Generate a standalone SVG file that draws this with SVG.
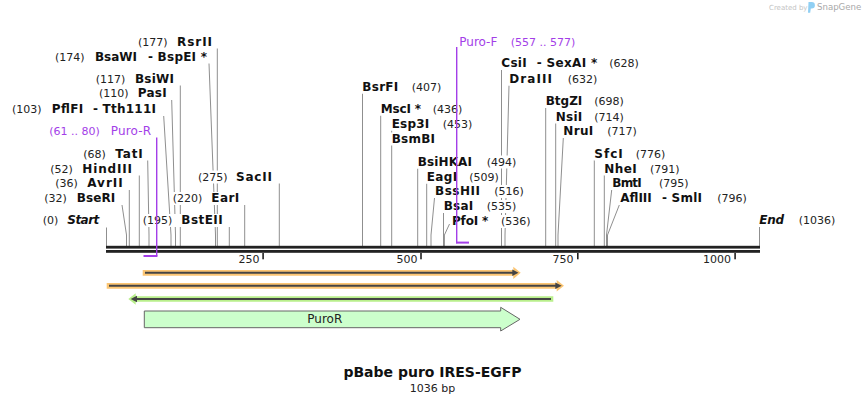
<svg xmlns="http://www.w3.org/2000/svg" width="866" height="404" viewBox="0 0 866 404">
<style>
.n{font-family:"DejaVu Sans",Verdana,sans-serif;font-size:12px;font-weight:bold;fill:#111}
.ni{font-family:"DejaVu Sans",Verdana,sans-serif;font-size:12px;font-weight:bold;font-style:italic;fill:#111}
.p{font-family:"DejaVu Sans",Verdana,sans-serif;font-size:11px;fill:#222}
.pp{font-family:"DejaVu Sans",Verdana,sans-serif;font-size:11px;fill:#a33ee8}
.pn{font-family:"DejaVu Sans",Verdana,sans-serif;font-size:12px;fill:#a33ee8}
.bg{fill:#fff}
.c path{stroke:#8f8f8f;stroke-width:1;fill:none}
.pr{stroke:#a33ee8;fill:none}
.tk{fill:#222}
.tl{font-family:"DejaVu Sans",Verdana,sans-serif;font-size:11px;fill:#222;text-anchor:end}
</style>
<rect width="866" height="404" fill="#fff"/>

<g id="watermark">
<text x="769" y="10" style="font-family:'DejaVu Sans',sans-serif;font-size:7px;fill:#c4c4c4">Created by</text>
<path d="M808.5 2 h3.2 a3.2 3.2 0 0 1 0 6.4 h-0.9 l-0.6 4.3 h-2.2 z" fill="#90cff3"/>
<text x="817" y="10.2" style="font-family:'DejaVu Sans',sans-serif;font-size:8.6px;fill:#a9a9a9">SnapGene</text>
</g>

<g id="connectors" class="c">
<path d="M106.5 227.5V246"/>
<path d="M122 205L126.5 235V246"/>
<path d="M129.3 190V246"/>
<path d="M139.3 175.5V246"/>
<path d="M147.7 160.5L149 235V246"/>
<path d="M163.7 116L171 235V246"/>
<path d="M171.7 100L175.5 235V246"/>
<path d="M180.3 85.5V246"/>
<path d="M209 63.5L215.5 235V246"/>
<path d="M217.3 48.5V246"/>
<path d="M229.3 227V246"/>
<path d="M244.7 205V246"/>
<path d="M279.3 183.5V246"/>
<path d="M362.5 93.5V246"/>
<path d="M380.7 115.5V246"/>
<path d="M391.7 130.5V246"/>
<path d="M417.7 168.5V246"/>
<path d="M426.7 183.5V246"/>
<path d="M434.5 198L431 235V246"/>
<path d="M443.5 213V246"/>
<path d="M449.5 224L444.4 235V246"/>
<path d="M501.5 70V246"/>
<path d="M509 85.5L505 235V246"/>
<path d="M545.7 107.5V246"/>
<path d="M555.7 123V246"/>
<path d="M563.3 138L558 235V246"/>
<path d="M594.3 160V246"/>
<path d="M604.3 175V246"/>
<path d="M611.7 190L606.5 235V246"/>
<path d="M619.3 205L607.5 235V246"/>
<path d="M759.5 227V246"/>
</g>

<g id="sequence">
<rect x="106" y="245.8" width="654" height="2.8" fill="#222"/>
<rect x="106" y="250" width="654" height="2.8" fill="#222"/>
<rect class="tk" x="262.3" y="253" width="1.6" height="6.3"/>
<rect class="tk" x="420.2" y="253" width="1.6" height="6.3"/>
<rect class="tk" x="577" y="253" width="1.6" height="6.3"/>
<rect class="tk" x="734.3" y="253" width="1.6" height="6.3"/>
<text class="tl" x="259.5" y="263.3">250</text>
<text class="tl" x="417.5" y="263.3">500</text>
<text class="tl" x="573.5" y="263.3">750</text>
<text class="tl" x="731" y="263.3">1000</text>
</g>

<!-- left-side enzymes -->
<g id="e-RsrII"><rect class="bg" x="137" y="35.5" width="77" height="13"/><text class="p" x="138" y="45.7">(177)</text><text class="n" x="177" y="45.7" textLength="35">RsrII</text></g>
<g id="e-BsaWI-BspEI"><rect class="bg" x="54" y="50.5" width="154" height="13"/><text class="p" x="55" y="60.7">(174)</text><text class="n" x="95" y="60.7" textLength="42">BsaWI</text><text class="n" x="148" y="60.7" textLength="59">- BspEI *</text></g>
<g id="e-BsiWI"><rect class="bg" x="94.7" y="72.5" width="80.3" height="13"/><text class="p" x="95.7" y="82.7">(117)</text><text class="n" x="135" y="82.7" textLength="39">BsiWI</text></g>
<g id="e-PasI"><rect class="bg" x="98" y="87" width="69.7" height="13"/><text class="p" x="99" y="97.3">(110)</text><text class="n" x="137.7" y="97.3" textLength="29">PasI</text></g>
<g id="e-PflFI-Tth111I"><rect class="bg" x="11" y="102.5" width="146" height="13"/><text class="p" x="12" y="112.7">(103)</text><text class="n" x="51.7" y="112.7" textLength="31.6">PflFI</text><text class="n" x="93" y="112.7" textLength="63">- Tth111I</text></g>
<g id="e-TatI"><rect class="bg" x="82.3" y="147.5" width="61.4" height="13"/><text class="p" x="83.3" y="157.7">(68)</text><text class="n" x="115.3" y="157.7" textLength="27.4">TatI</text></g>
<g id="e-HindIII"><rect class="bg" x="49.3" y="162.5" width="83.7" height="13"/><text class="p" x="50.3" y="172.7">(52)</text><text class="n" x="82.3" y="172.7" textLength="49.7">HindIII</text></g>
<g id="e-AvrII"><rect class="bg" x="54.3" y="177" width="69.4" height="13"/><text class="p" x="55.3" y="187.3">(36)</text><text class="n" x="87.3" y="187.3" textLength="35.4">AvrII</text></g>
<g id="e-BseRI"><rect class="bg" x="43.3" y="192" width="73" height="13"/><text class="p" x="44.3" y="202.3">(32)</text><text class="n" x="76.7" y="202.3" textLength="38.6">BseRI</text></g>
<g id="e-Start"><rect class="bg" x="41.7" y="214" width="58.6" height="13"/><text class="p" x="42.7" y="224.3">(0)</text><text class="ni" x="67.3" y="224.3" textLength="32">Start</text></g>
<g id="e-BstEII"><rect class="bg" x="141.7" y="214" width="82" height="13"/><text class="p" x="142.7" y="224.3">(195)</text><text class="n" x="181.3" y="224.3" textLength="41.4">BstEII</text></g>
<g id="e-EarI"><rect class="bg" x="171.7" y="192" width="68.6" height="13"/><text class="p" x="172.7" y="202.3">(220)</text><text class="n" x="211.3" y="202.3" textLength="28">EarI</text></g>
<g id="e-SacII"><rect class="bg" x="197" y="170.5" width="76" height="13"/><text class="p" x="198" y="180.7">(275)</text><text class="n" x="236" y="180.7" textLength="36">SacII</text></g>

<!-- right-side enzymes -->
<g id="e-CsiI-SexAI"><rect class="bg" x="500.3" y="57" width="139.4" height="13"/><text class="n" x="501.3" y="67.3" textLength="25.4">CsiI</text><text class="n" x="536.7" y="67.3" textLength="60.5">- SexAI *</text><text class="p" x="609.3" y="67.3">(628)</text></g>
<g id="e-DraIII"><rect class="bg" x="508.3" y="72.5" width="90" height="13"/><text class="n" x="509.3" y="82.7" textLength="42.7">DraIII</text><text class="p" x="567.7" y="82.7">(632)</text></g>
<g id="e-BsrFI"><rect class="bg" x="361.3" y="80.5" width="80.7" height="13"/><text class="n" x="362.3" y="90.7" textLength="36">BsrFI</text><text class="p" x="411.7" y="90.7">(407)</text></g>
<g id="e-MscI"><rect class="bg" x="379.7" y="102.5" width="83.3" height="13"/><text class="n" x="380.7" y="112.7" textLength="40.3">MscI *</text><text class="p" x="432.7" y="112.7">(436)</text></g>
<g id="e-Esp3I"><rect class="bg" x="390.7" y="117.5" width="82.3" height="13"/><text class="n" x="391.7" y="127.7" textLength="37.6">Esp3I</text><text class="p" x="442.7" y="127.7">(453)</text></g>
<g id="e-BsmBI"><rect class="bg" x="390.7" y="132.5" width="45.3" height="13"/><text class="n" x="391.7" y="142.7" textLength="43.3">BsmBI</text></g>
<g id="e-BtgZI"><rect class="bg" x="544.7" y="95" width="80.3" height="13"/><text class="n" x="545.7" y="105" textLength="36.6">BtgZI</text><text class="p" x="594.3" y="105">(698)</text></g>
<g id="e-NsiI"><rect class="bg" x="554.7" y="110.5" width="70.3" height="13"/><text class="n" x="555.7" y="120.7" textLength="26.6">NsiI</text><text class="p" x="594.3" y="120.7">(714)</text></g>
<g id="e-NruI"><rect class="bg" x="562.3" y="125" width="75.4" height="13"/><text class="n" x="563.3" y="135.3" textLength="30">NruI</text><text class="p" x="607.3" y="135.3">(717)</text></g>
<g id="e-BsiHKAI"><rect class="bg" x="416.7" y="155.5" width="100.3" height="13"/><text class="n" x="417.7" y="165.7" textLength="54.3">BsiHKAI</text><text class="p" x="486.7" y="165.7">(494)</text></g>
<g id="e-EagI"><rect class="bg" x="425.7" y="170.5" width="74.6" height="13"/><text class="n" x="426.7" y="180.7" textLength="30.6">EagI</text><text class="p" x="469.3" y="180.7">(509)</text></g>
<g id="e-BssHII"><rect class="bg" x="434" y="185" width="91" height="13"/><text class="n" x="435" y="195.3" textLength="45">BssHII</text><text class="p" x="494.3" y="195.3">(516)</text></g>
<g id="e-BsaI"><rect class="bg" x="442.7" y="200" width="74.3" height="13"/><text class="n" x="443.7" y="210.3" textLength="29.6">BsaI</text><text class="p" x="486.7" y="210.3">(535)</text></g>
<g id="e-PfoI"><rect class="bg" x="451" y="215" width="80" height="13"/><text class="n" x="452" y="225.3" textLength="36.3">PfoI *</text><text class="p" x="501" y="225.3">(536)</text></g>
<g id="e-SfcI"><rect class="bg" x="593.3" y="147.5" width="73" height="13"/><text class="n" x="594.3" y="157.7" textLength="28.4">SfcI</text><text class="p" x="635.7" y="157.7">(776)</text></g>
<g id="e-NheI"><rect class="bg" x="603.3" y="162.5" width="77.7" height="13"/><text class="n" x="604.3" y="172.7" textLength="32.4">NheI</text><text class="p" x="650" y="172.7">(791)</text></g>
<g id="e-BmtI"><rect class="bg" x="611.3" y="177" width="78" height="13"/><text class="n" x="612.3" y="187.3" textLength="29.4">BmtI</text><text class="p" x="659" y="187.3">(795)</text></g>
<g id="e-AflIII-SmlI"><rect class="bg" x="619.3" y="192" width="128.7" height="13"/><text class="n" x="620.3" y="202.3" textLength="31.4">AflIII</text><text class="n" x="662" y="202.3" textLength="40">- SmlI</text><text class="p" x="717.3" y="202.3">(796)</text></g>
<g id="e-End"><rect class="bg" x="760.5" y="214" width="75.5" height="13"/><text class="ni" x="759.3" y="224.3" textLength="24.7">End</text><text class="p" x="798.7" y="224.3">(1036)</text></g>

<!-- primers -->
<g id="primer-Puro-R">
<text class="pp" x="49.3" y="135">(61 .. 80)</text><text class="pn" x="110.7" y="135" textLength="40.3">Puro-R</text>
<path class="pr" d="M156.7 137.5V256.3" stroke-width="1.4"/>
<path class="pr" d="M143.5 256H157.4" stroke-width="2"/>
</g>
<g id="primer-Puro-F">
<text class="pn" x="459.3" y="46" textLength="38">Puro-F</text><text class="pp" x="510.7" y="46">(557 .. 577)</text>
<path class="pr" d="M456.7 47V243.3" stroke-width="1.4"/>
<path class="pr" d="M456 242.6H469" stroke-width="2"/>
</g>

<!-- features -->
<g id="feature-1">
<polygon points="142.7,270 513.3,270 513.3,266.7 520.7,272.8 513.3,279 513.3,275.7 142.7,275.7" fill="#fbc573"/>
<path d="M145 272.8H513" stroke="#444" stroke-width="2"/>
<polygon points="512.3,269.6 518.5,272.8 512.3,276" fill="#444"/>
</g>
<g id="feature-2">
<polygon points="106.7,283 556.7,283 556.7,280 564,285.8 556.7,291.6 556.7,288.7 106.7,288.7" fill="#fbc573"/>
<path d="M109 285.8H556" stroke="#444" stroke-width="2"/>
<polygon points="555.3,282.6 561.7,285.8 555.3,289" fill="#444"/>
</g>
<g id="feature-3">
<polygon points="128.3,299 135.7,293.3 135.7,296.2 553.3,296.2 553.3,301.8 135.7,301.8 135.7,304.7" fill="#b9ef8c"/>
<path d="M136 299H551" stroke="#444" stroke-width="2"/>
<polygon points="130.7,299 137,295.8 137,302.2" fill="#444"/>
</g>
<g id="feature-PuroR">
<polygon points="144.3,311 500.7,311 500.7,307.3 520,319.3 500.7,331 500.7,327.7 144.3,327.7" fill="#ccffcc" stroke="#666" stroke-width="1"/>
<text x="324.8" y="323.3" text-anchor="middle" style="font-family:'DejaVu Sans',Verdana,sans-serif;font-size:12px;fill:#222">PuroR</text>
</g>

<g id="title">
<text x="432.5" y="376.7" text-anchor="middle" style="font-family:'DejaVu Sans',Verdana,sans-serif;font-size:14px;font-weight:bold;fill:#111">pBabe puro IRES-EGFP</text>
<text x="432.5" y="391.7" text-anchor="middle" style="font-family:'DejaVu Sans',Verdana,sans-serif;font-size:11px;fill:#222">1036 bp</text>
</g>
</svg>
